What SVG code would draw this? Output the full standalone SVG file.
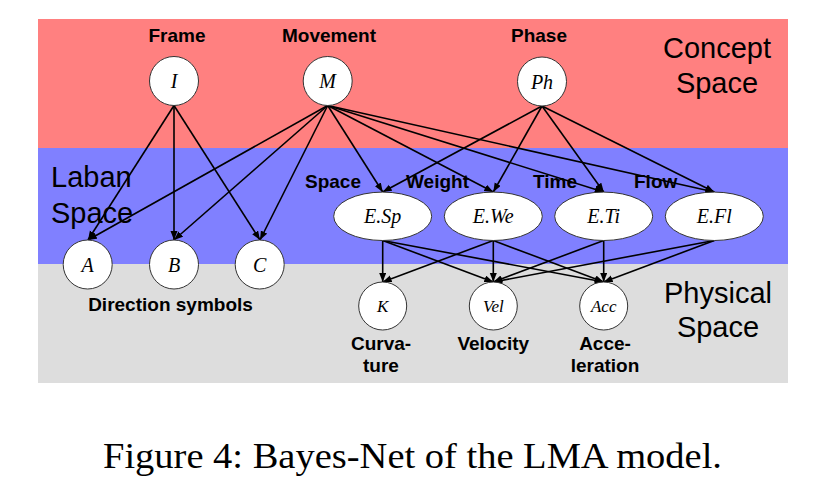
<svg xmlns="http://www.w3.org/2000/svg" width="822" height="497" viewBox="0 0 822 497">
<style>
.lbl{font-family:"Liberation Sans",Arial,sans-serif;font-weight:bold;font-size:19px;fill:#000}
.big{font-family:"Liberation Sans",Arial,sans-serif;font-size:29px;fill:#000}
.nd{fill:#fff;stroke:#333;stroke-width:1}
.nt{font-family:"Liberation Serif","Times New Roman",serif;font-style:italic;font-size:20px;fill:#000;text-anchor:middle}
.e{stroke:#000;stroke-width:1.6;fill:none;marker-end:url(#ah)}
.cap{font-family:"Liberation Serif","Times New Roman",serif;font-size:35px;fill:#000}
</style>
<defs>
<marker id="ah" markerUnits="userSpaceOnUse" markerWidth="10" markerHeight="8" refX="9" refY="3.5" orient="auto">
<path d="M0,0 L9,3.5 L0,7 z" fill="#000"/>
</marker>
</defs>
<rect x="0" y="0" width="822" height="497" fill="#fff"/>
<g id="bands">
<rect x="38" y="19" width="750" height="129" fill="#FF8080"/>
<rect x="38" y="148" width="750" height="116" fill="#8080FF"/>
<rect x="38" y="264" width="750" height="119" fill="#DDDDDD"/>
</g>
<g id="space-labels">
<text class="big" x="717" y="58" text-anchor="middle">Concept</text>
<text class="big" x="717" y="93" text-anchor="middle">Space</text>
<text class="big" x="51" y="187">Laban</text>
<text class="big" x="51" y="223">Space</text>
<text class="big" x="718" y="303" text-anchor="middle">Physical</text>
<text class="big" x="718" y="337" text-anchor="middle">Space</text>
</g>
<g id="connectors">
<line class="e" x1="174" y1="105.5" x2="88" y2="240"/>
<line class="e" x1="174" y1="105.5" x2="174" y2="240"/>
<line class="e" x1="174" y1="105.5" x2="260" y2="240"/>
<line class="e" x1="327.7" y1="105.5" x2="88" y2="240"/>
<line class="e" x1="327.7" y1="105.5" x2="174" y2="240"/>
<line class="e" x1="327.7" y1="105.5" x2="260" y2="240"/>
<line class="e" x1="327.7" y1="105.5" x2="382.7" y2="192"/>
<line class="e" x1="327.7" y1="105.5" x2="493.3" y2="192"/>
<line class="e" x1="327.7" y1="105.5" x2="603.7" y2="192"/>
<line class="e" x1="327.7" y1="105.5" x2="714.3" y2="192"/>
<line class="e" x1="542" y1="106" x2="382.7" y2="192"/>
<line class="e" x1="542" y1="106" x2="493.3" y2="192"/>
<line class="e" x1="542" y1="106" x2="603.7" y2="192"/>
<line class="e" x1="542" y1="106" x2="714.3" y2="192"/>
<line class="e" x1="382.7" y1="240.5" x2="382.7" y2="282"/>
<line class="e" x1="382.7" y1="240.5" x2="493.3" y2="282"/>
<line class="e" x1="382.7" y1="240.5" x2="603.7" y2="282"/>
<line class="e" x1="493.3" y1="240.5" x2="382.7" y2="282"/>
<line class="e" x1="493.3" y1="240.5" x2="493.3" y2="282"/>
<line class="e" x1="493.3" y1="240.5" x2="603.7" y2="282"/>
<line class="e" x1="603.7" y1="240.5" x2="493.3" y2="282"/>
<line class="e" x1="603.7" y1="240.5" x2="603.7" y2="282"/>
<line class="e" x1="714.3" y1="240.5" x2="493.3" y2="282"/>
<line class="e" x1="714.3" y1="240.5" x2="603.7" y2="282"/>
</g>
<g id="node-I"><text class="lbl" x="177" y="42" text-anchor="middle">Frame</text><circle class="nd" cx="174" cy="81" r="24.5"/><text class="nt" x="174" y="88">I</text></g>
<g id="node-M"><text class="lbl" x="329" y="42" text-anchor="middle">Movement</text><circle class="nd" cx="327.7" cy="81" r="24.5"/><text class="nt" x="327.7" y="88">M</text></g>
<g id="node-Ph"><text class="lbl" x="539" y="42" text-anchor="middle">Phase</text><circle class="nd" cx="542" cy="81.5" r="24.5"/><text class="nt" x="542" y="88.5">Ph</text></g>
<g id="node-A"><circle class="nd" cx="87.7" cy="264.5" r="24.5"/><text class="nt" x="87.7" y="271.5">A</text></g>
<g id="node-B"><circle class="nd" cx="174" cy="264.5" r="24.5"/><text class="nt" x="174" y="271.5">B</text></g>
<g id="node-C"><circle class="nd" cx="259.7" cy="264.5" r="24.5"/><text class="nt" x="259.7" y="271.5">C</text></g>
<g id="direction-label"><text class="lbl" x="170.5" y="311" text-anchor="middle">Direction symbols</text></g>
<g id="node-ESp"><text class="lbl" x="305" y="188">Space</text><ellipse class="nd" cx="382.7" cy="216.3" rx="49" ry="24.2"/><text class="nt" x="382.7" y="223.3">E.Sp</text></g>
<g id="node-EWe"><text class="lbl" x="406" y="188">Weight</text><ellipse class="nd" cx="493.3" cy="216.3" rx="49" ry="24.2"/><text class="nt" x="493.3" y="223.3">E.We</text></g>
<g id="node-ETi"><text class="lbl" x="533" y="188">Time</text><ellipse class="nd" cx="603.7" cy="216.3" rx="49" ry="24.2"/><text class="nt" x="603.7" y="223.3">E.Ti</text></g>
<g id="node-EFl"><text class="lbl" x="634" y="188">Flow</text><ellipse class="nd" cx="714.3" cy="216.3" rx="49" ry="24.2"/><text class="nt" x="714.3" y="223.3">E.Fl</text></g>
<g id="node-K"><circle class="nd" cx="382.7" cy="306" r="24"/><text class="nt" x="382.7" y="312" style="font-size:17px">K</text><text class="lbl" x="381" y="349.5" text-anchor="middle">Curva-</text><text class="lbl" x="381" y="372" text-anchor="middle">ture</text></g>
<g id="node-Vel"><circle class="nd" cx="493.3" cy="306" r="24"/><text class="nt" x="493.3" y="312" style="font-size:17px">Vel</text><text class="lbl" x="493.3" y="349.5" text-anchor="middle">Velocity</text></g>
<g id="node-Acc"><circle class="nd" cx="603.7" cy="306" r="24"/><text class="nt" x="603.7" y="312" style="font-size:17px">Acc</text><text class="lbl" x="605" y="349.5" text-anchor="middle">Acce-</text><text class="lbl" x="605" y="372" text-anchor="middle">leration</text></g>
<g id="caption"><text class="cap" x="103" y="468" textLength="619" lengthAdjust="spacingAndGlyphs">Figure 4: Bayes-Net of the LMA model.</text></g>
</svg>
